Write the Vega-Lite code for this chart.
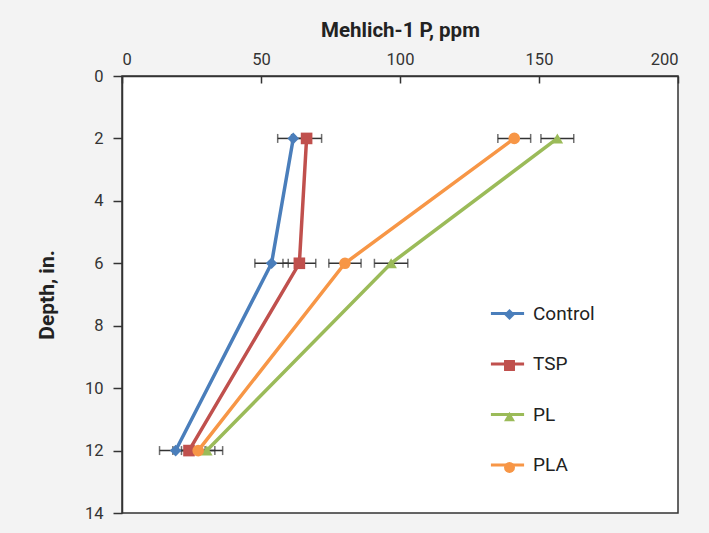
{
  "$schema": "https://vega.github.io/schema/vega-lite/v6.json",
  "width": 556,
  "height": 437,
  "autosize": {"type": "none"},
  "padding": {"left": 122, "top": 76, "right": 31, "bottom": 20},
  "background": "#f3f3f3",
  "config": {
    "view": {"stroke": "#333333", "strokeWidth": 1.5, "fill": "white"},
    "font": "Roboto",
    "axis": {
      "labelFont": "Roboto",
      "titleFont": "Roboto",
      "labelFontSize": 16.5,
      "labelColor": "#333333",
      "titleColor": "#222222",
      "domainColor": "#333333",
      "domainWidth": 1.5,
      "tickColor": "#333333",
      "tickWidth": 1.5,
      "grid": false
    },
    "legend": {"labelFont": "Roboto"}
  },
  "data": {
    "values": [
      {"series": "Control", "depth": 2, "p": 61.6, "err": 5.6},
      {"series": "Control", "depth": 6, "p": 53.8, "err": 6.0},
      {"series": "Control", "depth": 12, "p": 19.3, "err": 5.8},
      {"series": "TSP", "depth": 2, "p": 66.4, "err": 5.4},
      {"series": "TSP", "depth": 6, "p": 63.8, "err": 5.9},
      {"series": "TSP", "depth": 12, "p": 24.1, "err": 5.8},
      {"series": "PL", "depth": 2, "p": 156.6, "err": 5.9},
      {"series": "PL", "depth": 6, "p": 96.8, "err": 6.0},
      {"series": "PL", "depth": 12, "p": 30.5, "err": 5.7},
      {"series": "PLA", "depth": 2, "p": 141.1, "err": 5.9},
      {"series": "PLA", "depth": 6, "p": 80.2, "err": 5.8},
      {"series": "PLA", "depth": 12, "p": 27.4, "err": 6.0}
    ]
  },
  "layer": [
    {
      "mark": {"type": "errorbar", "ticks": {"size": 9, "color": "#333333", "strokeWidth": 1.5}, "color": "#333333", "thickness": 1.5},
      "encoding": {
        "x": {"field": "p", "type": "quantitative", "scale": {"domain": [0, 200], "nice": false}, "axis": {"orient": "top", "values": [0, 50, 100, 150, 200], "tickSize": -7, "labelPadding": 16, "title": "Mehlich-1 P, ppm", "titleFontSize": 20.5, "titleFontWeight": "bold", "titlePadding": 11}},
        "xError": {"field": "err"},
        "y": {"field": "depth", "type": "quantitative", "scale": {"domain": [0, 14], "reverse": true, "nice": false}, "axis": {"values": [0, 2, 4, 6, 8, 10, 12, 14], "tickSize": 9, "labelPadding": 10, "title": "Depth, in.", "titleFontSize": 21, "titleFontWeight": "bold", "titlePadding": 27}}
      }
    },
    {
      "mark": {"type": "line", "strokeWidth": 3.5},
      "encoding": {
        "x": {"field": "p", "type": "quantitative"},
        "y": {"field": "depth", "type": "quantitative"},
        "order": {"field": "depth", "type": "quantitative"},
        "stroke": {
          "field": "series", "type": "nominal",
          "sort": ["Control", "TSP", "PL", "PLA"],
          "scale": {"range": ["#4a7ebb", "#c0504d", "#9bbb59", "#f79646"]},
          "legend": {"orient": "none", "legendX": 367, "legendY": 219, "title": null, "symbolType": "stroke", "symbolSize": 1100, "symbolStrokeWidth": 3, "labelFontSize": 19, "labelColor": "#222222", "rowPadding": 21.5, "labelOffset": 7}
        }
      }
    },
    {
      "mark": {"type": "point", "filled": true, "opacity": 1, "size": 135},
      "encoding": {
        "x": {"field": "p", "type": "quantitative"},
        "y": {"field": "depth", "type": "quantitative"},
        "fill": {
          "field": "series", "type": "nominal",
          "scale": {"domain": ["Control", "TSP", "PL", "PLA"], "range": ["#4a7ebb", "#c0504d", "#9bbb59", "#f79646"]},
          "legend": {"orient": "none", "legendX": 378, "legendY": 229, "title": null, "symbolSize": 120, "symbolStrokeWidth": 0, "labelFontSize": 19, "labelExpr": "''", "rowPadding": 31, "labelOffset": 7}
        },
        "shape": {
          "field": "series", "type": "nominal",
          "scale": {"domain": ["Control", "TSP", "PL", "PLA"], "range": ["diamond", "square", "triangle-up", "circle"]},
          "legend": {"orient": "none", "legendX": 378, "legendY": 229, "title": null, "symbolSize": 120, "symbolStrokeWidth": 0, "labelFontSize": 19, "labelExpr": "''", "rowPadding": 31, "labelOffset": 7}
        }
      }
    }
  ]
}
